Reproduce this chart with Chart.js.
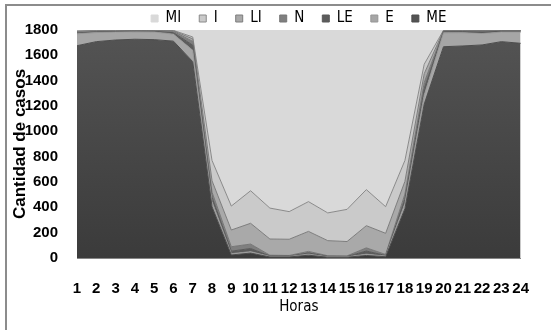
<!DOCTYPE html>
<html>
<head>
<meta charset="utf-8">
<script src="https://cdn.jsdelivr.net/npm/chart.js@4.4.1/dist/chart.umd.min.js"></script>
<style>
  html, body { margin: 0; padding: 0; background: #fff; overflow: hidden; }
  #frame { position: absolute; left: 5px; top: 4px; width: 600px; height: 400px; border-left: 2px solid #8c8c8c; border-top: 2px solid #8c8c8c; }
  #wrap { position: absolute; left: 0; top: 0; width: 551px; height: 330px; }
</style>
</head>
<body>
<div id="frame"></div>
<div id="wrap"><canvas id="chart" width="551" height="330"></canvas></div>
<script>
const hours = ['1','2','3','4','5','6','7','8','9','10','11','12','13','14','15','16','17','18','19','20','21','22','23','24'];

// casos por hora, de abajo (ME) hacia arriba (MI)
const ME = [1676,1708,1721,1727,1724,1712,1550,405,24,39,8,8,22,6,6,20,10,390,1215,1668,1674,1682,1708,1695];
const E  = [94,72,62,58,60,55,90,40,10,11,4,4,8,3,3,10,5,40,70,110,105,90,75,88];
const LE = [6,5,5,5,5,12,40,35,20,25,4,3,10,4,3,25,5,35,50,8,8,12,7,7];
const N  = [6,5,4,4,4,10,30,40,35,35,6,5,12,5,5,25,8,40,50,6,6,10,5,5];
const LI = [6,4,3,2,3,5,20,90,132,164,128,128,158,119,113,175,167,100,70,4,3,3,2,2];
const I  = [5,3,3,2,2,3,15,160,189,257,244,218,235,219,254,285,210,165,75,2,2,1,1,1];
const MI = [7,3,2,2,2,3,55,1030,1390,1269,1406,1434,1355,1444,1416,1260,1395,1030,270,2,2,2,2,2];

const yTicks = [0,200,400,600,800,1000,1200,1400,1600,1800];

const sans = "'Liberation Sans', Arial, sans-serif";
const narrow = "'Liberation Sans Narrow', 'DejaVu Sans Condensed', sans-serif";

const meFill = (ctx) => {
    const area = ctx.chart.chartArea;
    if (!area) return '#4a4a4a';
    const g = ctx.chart.ctx.createLinearGradient(0, area.top, 0, area.bottom);
    g.addColorStop(0, '#545454');
    g.addColorStop(1, '#3b3b3b');
    return g;
};

const series = [
    { label: 'ME', data: ME, bg: meFill,    line: '#4d4d4d', fill: 'origin' },
    { label: 'E',  data: E,  bg: '#a6a6a6', line: '#969696', fill: '-1' },
    { label: 'LE', data: LE, bg: '#5c5c5c', line: '#595959', fill: '-1' },
    { label: 'N',  data: N,  bg: '#7f7f7f', line: '#777777', fill: '-1' },
    { label: 'LI', data: LI, bg: '#a9a9a9', line: '#7d7d7d', fill: '-1' },
    { label: 'I',  data: I,  bg: '#cacaca', line: '#8a8a8a', fill: '-1' },
    { label: 'MI', data: MI, bg: '#d9d9d9', line: '#d9d9d9', fill: '-1' }
];

new Chart(document.getElementById('chart'), {
    type: 'line',
    data: {
        labels: hours,
        datasets: series.map(s => ({
            label: s.label,
            data: s.data,
            backgroundColor: s.bg,
            borderColor: s.line,
            borderWidth: 1,
            fill: s.fill,
            pointRadius: 0,
            tension: 0
        }))
    },
    options: {
        responsive: false,
        animation: false,
        layout: { padding: { top: -7, left: 8, right: 11, bottom: 0 } },
        plugins: {
            legend: {
                position: 'top',
                fullSize: false,
                reverse: true,
                maxHeight: 37,
                labels: {
                    boxWidth: 7,
                    boxHeight: 7,
                    padding: 18,
                    color: '#000',
                    font: { family: narrow, size: 15 }
                }
            },
            tooltip: { enabled: false }
        },
        scales: {
            x: {
                grid: { display: false, drawTicks: false },
                border: { color: '#868686' },
                ticks: {
                    autoSkip: false,
                    maxRotation: 0,
                    padding: 22,
                    color: '#000',
                    font: { family: sans, size: 15, weight: 'bold' }
                },
                title: {
                    display: true,
                    text: 'Horas',
                    color: '#000',
                    font: { family: narrow, size: 15 },
                    padding: { top: 0, bottom: 14 }
                },
                afterFit: (s) => { s.height = 72; }
            },
            y: {
                stacked: true,
                min: 0,
                max: 1800,
                afterBuildTicks: (s) => { s.ticks = yTicks.map(v => ({ value: v })); },
                grid: { display: false, drawTicks: false },
                border: { display: false },
                ticks: {
                    padding: 19,
                    color: '#000',
                    font: { family: sans, size: 15, weight: 'bold' },
                    callback: (v) => String(v)
                },
                title: {
                    display: true,
                    text: 'Cantidad de casos',
                    color: '#000',
                    font: { family: sans, size: 17, weight: 'bold' },
                    padding: { top: 2, bottom: 0 }
                },
                afterFit: (s) => { s.width = 69; }
            }
        }
    }
});
</script>
</body>
</html>
